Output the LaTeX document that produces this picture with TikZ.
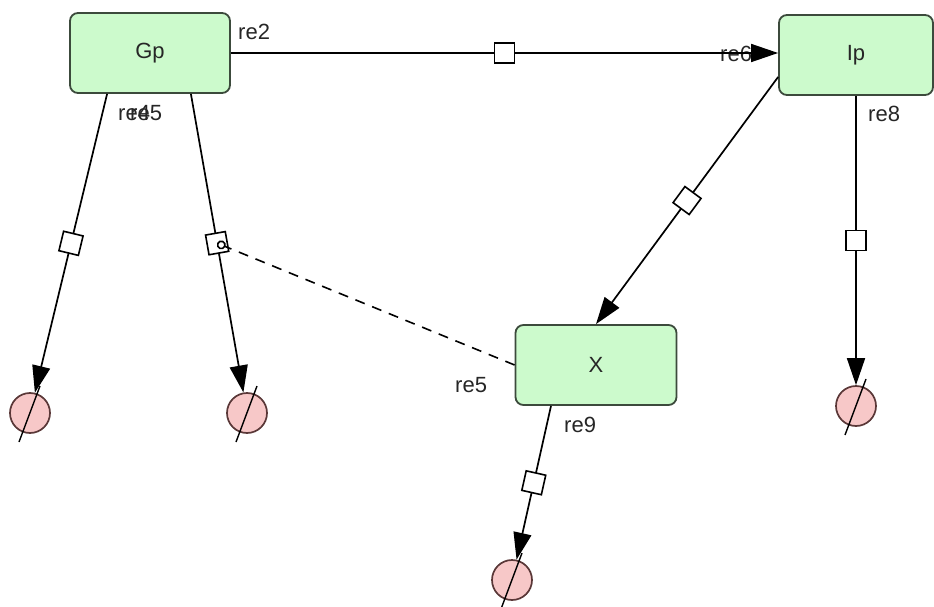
\documentclass[tikz,border=0pt]{standalone}
\usepackage{fontspec}
\setmainfont{Liberation Sans}
\usetikzlibrary{arrows.meta,calc}
\definecolor{spfill}{HTML}{CCFACC}
\definecolor{spdraw}{HTML}{3C4A3C}
\definecolor{dgfill}{HTML}{F7C8C8}
\definecolor{dgdraw}{HTML}{5A3838}
\definecolor{txt}{HTML}{262626}
\tikzset{
	species/.style={draw=spdraw,fill=spfill,line width=1.8pt,rounded corners=8pt,
		minimum height=80pt,text=txt,font=\fontsize{22}{26}\selectfont},
	degr/.style={circle,draw=dgdraw,fill=dgfill,line width=1.7pt,minimum size=40pt,inner sep=0pt},
	proc/.style={draw,fill=white,line width=1.6pt,minimum size=20pt,inner sep=0pt,sloped},
	rxn/.style={line width=1.7pt,-{Triangle[length=27pt,width=18pt]}},
	modif/.style={line width=1.6pt,dash pattern=on 10pt off 8pt,-{Circle[length=9pt,fill=white]}},
	lbl/.style={inner sep=0pt,anchor=base west,text=txt,font=\fontsize{22}{26}\selectfont}
}
\begin{document}
\begin{tikzpicture}[x=1pt,y=-1pt]
		\useasboundingbox (0,0) rectangle (934,607);
		% reaction labels
		\node[lbl] (l2) at (238,40) {re2};
		\node[lbl] (l6) at (720,62) {re6};
		\node[lbl] (l4) at (118,121) {re4};
		\node[lbl] (l3) at (130,121) {re5};
		\node[lbl] (l5) at (455,392) {re5};
		\node[lbl] (l8) at (868,122) {re8};
		\node[lbl] (l9) at (564,432) {re9};
		
		% species
		\node[species,minimum width=160pt] (Gp) at (150,53) {Gp};
		\node[species,minimum width=154pt] (Ip) at (856,55) {Ip};
		\node[species,minimum width=161pt] (X) at (596,365) {X};
		
		% degraded
		\node[degr] (dg1) at (30,413) {};
		\node[degr] (dg2) at (247,413) {};
		\node[degr] (dg3) at (856,406) {};
		\node[degr] (dg4) at (512,580) {};
		\foreach \d in {dg1,dg2,dg3,dg4}
		\draw[line width=1.4pt] ([shift={(10,-27)}]\d.center) -- ([shift={(-11,29)}]\d.center);
		
		% reactions
		\draw[rxn] (Gp.east) -- node[proc] (p2) {} (Gp.east -| Ip.west);
		\draw[rxn] ([xshift=38pt]Gp.south west) -- node[proc] (p4) {} (dg1);
		\draw[rxn] ([xshift=-40pt]Gp.south east) -- node[proc] (p5) {} (dg2);
		\draw[rxn] ([yshift=-22pt]Ip.west) -- node[proc] (p6) {} (X.north);
		\draw[rxn] (Ip.south) -- node[proc] (p8) {} (dg3);
		\draw[rxn] ([xshift=-45pt]X.south) -- node[proc] (p9) {} (dg4);
		
		\draw[modif] (X.west) -- (p5.center);
\end{tikzpicture}
\end{document}
